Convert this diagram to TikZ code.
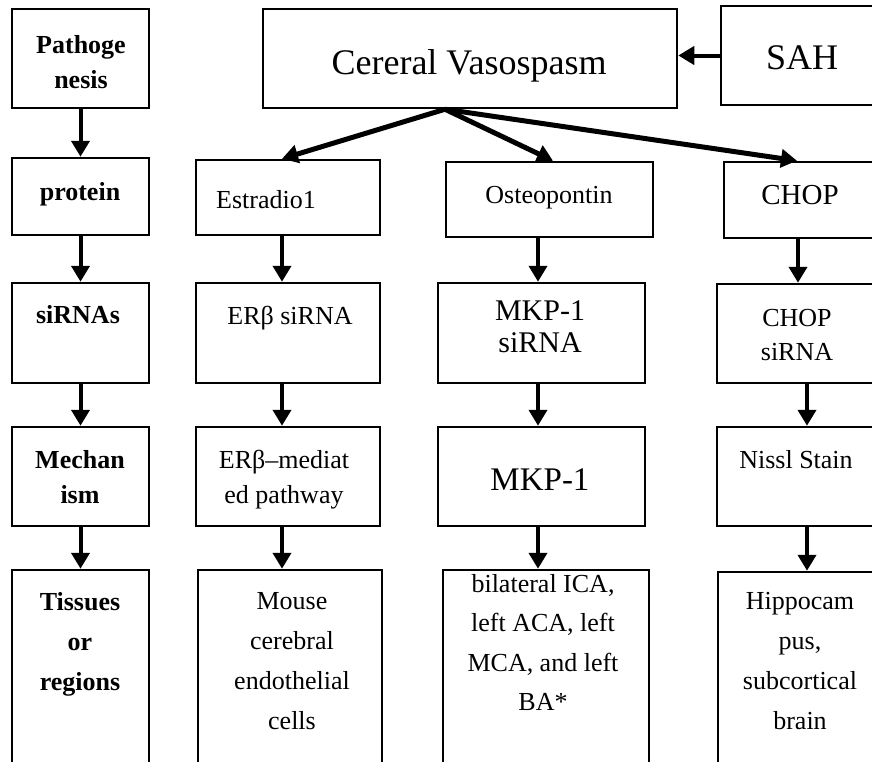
\documentclass[tikz,border=0pt]{standalone}
\usepackage{fontspec}
\setmainfont{Liberation Serif}
\usetikzlibrary{arrows.meta}

\begin{document}
\begin{tikzpicture}[x=1pt, y=-1pt,
  box/.style={draw, line width=2.5pt, inner sep=0pt},
  txt/.style={font=\fontsize{26}{40}\selectfont, align=center, inner sep=0pt},
  hd/.style={txt, font=\fontsize{26}{40}\selectfont\bfseries},
  arr/.style={line width=4pt, -{Triangle[width=18pt,length=16pt]}},
  fan/.style={arr, line width=5pt}]
  \useasboundingbox (0,0) rectangle (872,761);
  \clip (0,0) rectangle (872,761);
  % left column: row headings
  \node[box, minimum width=137pt, minimum height=99pt] (path) at (80.5,58.5) {};
  \node[box, minimum width=137pt, minimum height=77pt] (prot) at (80.5,196.5) {};
  \node[box, minimum width=137pt, minimum height=100pt] (sirna) at (80.5,333) {};
  \node[box, minimum width=137pt, minimum height=99pt] (mech) at (80.5,476.5) {};
  \node[box, minimum width=137pt, minimum height=230pt] (tiss) at (80.5,685) {};
  \node[hd, anchor=north, font=\fontsize{26}{35}\selectfont\bfseries] (path-t) at (81,35) {Pathoge\\nesis};
  \node[hd, anchor=base] (prot-t) at (80,200) {protein};
  \node[hd, anchor=base] (sirna-t) at (78,323) {siRNAs};
  \node[hd, anchor=north, font=\fontsize{26}{35}\selectfont\bfseries] (mech-t) at (80,450) {Mechan\\ism};
  \node[hd, anchor=north] (tiss-t) at (80,592) {Tissues\\or\\regions};
  % top
  \node[box, minimum width=414pt, minimum height=99pt] (cv) at (470,58.5) {};
  \node[box, minimum width=169pt, minimum height=99pt] (sah) at (805.5,55.5) {};
  \node[txt, anchor=base, font=\fontsize{36}{40}\selectfont] (cv-t) at (469,74) {Cereral Vasospasm};
  \node[txt, anchor=base, font=\fontsize{36}{40}\selectfont] (sah-t) at (802,69) {SAH};
  % estradiol column
  \node[box, minimum width=184pt, minimum height=75pt] (estr) at (288,197.5) {};
  \node[box, minimum width=184pt, minimum height=100pt] (ersi) at (288,333) {};
  \node[box, minimum width=184pt, minimum height=99pt] (ermed) at (288,476.5) {};
  \node[box, minimum width=184pt, minimum height=230pt] (mouse) at (290,685) {};
  \node[txt, anchor=base] (estr-t) at (266,208) {Estradio1};
  \node[txt, anchor=base] (ersi-t) at (290,324) {ERβ siRNA};
  \node[txt, anchor=north, font=\fontsize{26}{35}\selectfont] (ermed-t) at (284,450) {ERβ–mediat\\ed pathway};
  \node[txt, anchor=north] (mouse-t) at (292,592) {Mouse\\cerebral\\endothelial\\cells};
  % osteopontin column
  \node[box, minimum width=207pt, minimum height=75pt] (opn) at (549.5,199.5) {};
  \node[box, minimum width=207pt, minimum height=100pt] (mkpsi) at (541.5,333) {};
  \node[box, minimum width=207pt, minimum height=99pt] (mkp) at (541.5,476.5) {};
  \node[box, minimum width=206pt, minimum height=230pt] (ica) at (546,685) {};
  \node[txt, anchor=base] (opn-t) at (549,203) {Osteopontin};
  \node[txt, anchor=north, font=\fontsize{30}{32}\selectfont] (mkpsi-t) at (540,300.5) {MKP-1\\siRNA};
  \node[txt, anchor=base, font=\fontsize{33}{40}\selectfont] (mkp-t) at (540,490) {MKP-1};
  \node[txt, anchor=north, font=\fontsize{26}{39.5}\selectfont] (ica-t) at (543,574) {bilateral ICA,\\left ACA, left\\MCA, and left\\BA*};
  % CHOP column
  \node[box, minimum width=166pt, minimum height=76pt] (chop) at (807,200) {};
  \node[box, minimum width=173pt, minimum height=99pt] (chopsi) at (803.5,333.5) {};
  \node[box, minimum width=173pt, minimum height=99pt] (nissl) at (803.5,476.5) {};
  \node[box, minimum width=172pt, minimum height=228pt] (hippo) at (804,686) {};
  \node[txt, anchor=base, font=\fontsize{29}{40}\selectfont] (chop-t) at (800,204) {CHOP};
  \node[txt, anchor=north, font=\fontsize{26}{34}\selectfont] (chopsi-t) at (797,309) {CHOP\\siRNA};
  \node[txt, anchor=base] (nissl-t) at (796,468) {Nissl Stain};
  \node[txt, anchor=north] (hippo-t) at (800,592) {Hippocam\\pus,\\subcortical\\brain};
  % arrows
  \draw[arr] (sah.west) -- (sah.west -| cv.east);
  \draw[fan] ([xshift=-25pt]cv.south) -- ([xshift=-6pt]estr.north);
  \draw[fan] ([xshift=-25pt]cv.south) -- ([xshift=3.5pt]opn.north);
  \draw[fan] ([xshift=-25pt]cv.south) -- ([xshift=-10pt]chop.north);
  \draw[arr] (path) -- (prot);
  \draw[arr] (prot) -- (sirna);
  \draw[arr] (sirna) -- (mech);
  \draw[arr] (mech) -- (tiss.north);
  \draw[arr] ([xshift=-6pt]estr.south) -- ([xshift=-6pt]ersi.north);
  \draw[arr] ([xshift=-6pt]ersi.south) -- ([xshift=-6pt]ermed.north);
  \draw[arr] ([xshift=-6pt]ermed.south) -- ([xshift=-8pt]mouse.north);
  \draw[arr] ([xshift=-11.5pt]opn.south) -- ([xshift=-3.5pt]mkpsi.north);
  \draw[arr] ([xshift=-3.5pt]mkpsi.south) -- ([xshift=-3.5pt]mkp.north);
  \draw[arr] ([xshift=-3.5pt]mkp.south) -- ([xshift=-8pt]ica.north);
  \draw[arr] ([xshift=-9pt]chop.south) -- ([xshift=-5.5pt]chopsi.north);
  \draw[arr] ([xshift=3.5pt]chopsi.south) -- ([xshift=3.5pt]nissl.north);
  \draw[arr] ([xshift=3.5pt]nissl.south) -- ([xshift=3pt]hippo.north);
\end{tikzpicture}
\end{document}
